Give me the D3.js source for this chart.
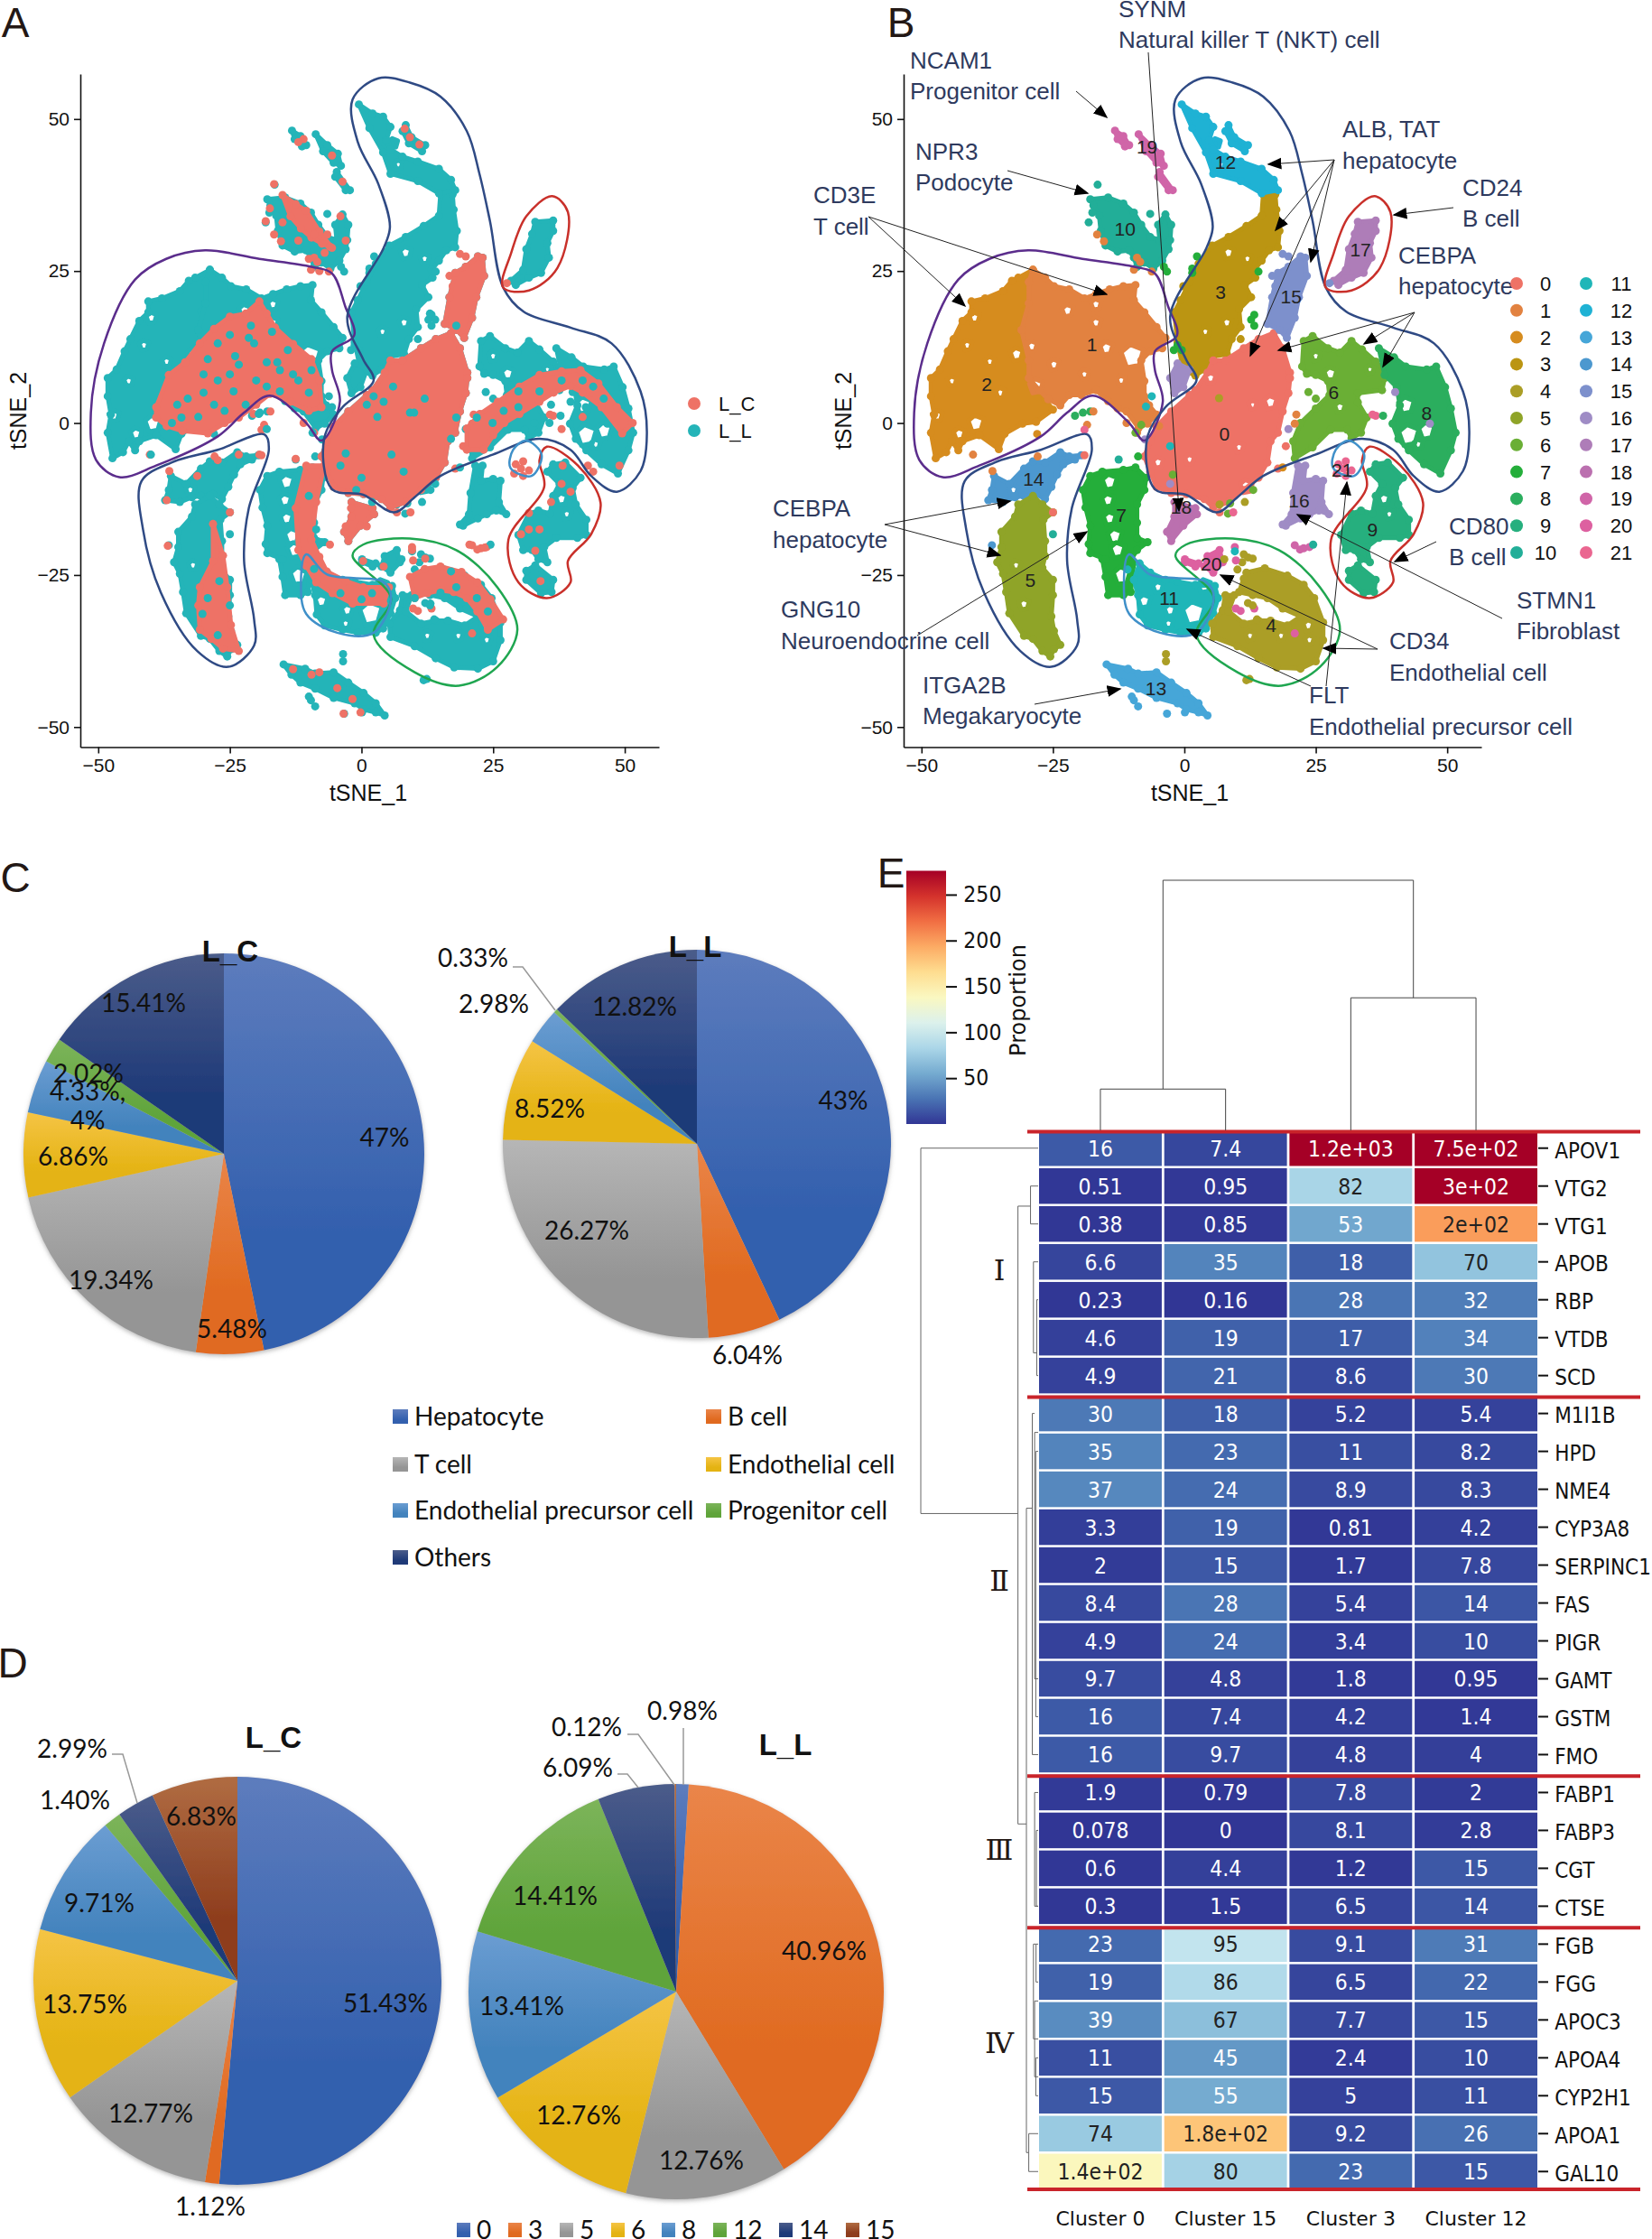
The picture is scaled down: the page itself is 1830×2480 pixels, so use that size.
<!DOCTYPE html>
<html>
<head>
<meta charset="utf-8">
<title>Liver tSNE clusters</title>
<script src="https://cdn.jsdelivr.net/npm/d3@7"></script>
<style>
  html, body { margin: 0; padding: 0; background: #fff; }
  svg { display: block; }
  text { font-family: "Liberation Sans", Arial, sans-serif; fill: #111; }
  .axis text { font-size: 21px; fill: #111; }
  .axis line, .axis path { stroke: #111; stroke-width: 1.6px; }
  .pie-label text, .pie-legend text { font-family: Lato, sans-serif; font-size: 28px; fill: #111; }
  .annot text { font-size: 26px; fill: #2e3a5e; }
  .heat text { font-family: "DejaVu Sans", sans-serif; }
</style>
</head>
<body>
<svg id="figure" width="1830" height="2480"></svg>
<script>
// ---- tSNE data: cell-cloud outlines, in tSNE units ----
const ring0 = [[17,14.8],[18.7,12.3],[20.1,8.3],[20.1,7.4],[19.8,4.9],[18.7,1.9],[17.8,-1.6],[16.4,-3],[15.8,-6.5],[14.1,-9],[11.3,-11],[8.4,-13],[5.5,-13.9],[3.8,-12.5],[0.4,-11.7],[-2.5,-11.5],[-5.3,-10.5],[-6.5,-8],[-7.6,-5.5],[-6.5,-3],[-5.3,-0.6],[-2.5,1.9],[1,4.6],[2.1,5.4],[4.4,8.3],[5.5,10.3],[7.8,10.3],[11.3,12.3],[14.1,13.8]];
const ring1 = [[-28.8,25.2],[-26.5,23.9],[-24.8,22.5],[-21.9,22],[-19,20.5],[-16.8,21.2],[-14.2,22],[-11.6,22.5],[-9.3,22.7],[-9.6,20.2],[-7.6,18.2],[-5.3,15.8],[-3.6,14],[-4.2,12.3],[-6.5,11.8],[-8.2,10.3],[-7.6,6.9],[-7.6,4.4],[-6.7,2.9],[-5.3,1.4],[-7,-0.1],[-8.7,-0.8],[-11,1.9],[-12.7,2.4],[-14.5,3.6],[-16.8,5.4],[-19.6,4.6],[-21.9,4.6],[-23.6,2.9],[-25.9,3.9],[-27.6,5.4],[-29.6,7.4],[-29.6,10.3],[-31,15.3],[-29.6,19.7],[-29.6,23.2]];
const ring2 = [[-28.8,25.2],[-31.6,23.9],[-32.8,23.4],[-34.5,21.7],[-37.9,20.5],[-40.5,20],[-40.5,18.2],[-42.2,16.8],[-43.9,13.8],[-45,11.8],[-46.5,8.8],[-48.2,7.4],[-48.2,4.4],[-47.6,1.4],[-48.2,-1.6],[-47.3,-5.8],[-45.3,-4.8],[-44.2,-3],[-43,-4.5],[-42.2,-3],[-39,-2],[-35.3,-4.3],[-34.2,-1.8],[-30.8,-0.1],[-28.2,0.2],[-25,2.2],[-26.5,3.9],[-29.6,7.4],[-29.6,10.3],[-31,15.3],[-29.6,19.7],[-29.6,23.2]];
const ring3 = [[15,37.6],[17.3,37.6],[17.5,35.1],[18.1,31.6],[17.8,28.9],[16.1,28.4],[14.7,26.7],[13.3,25.2],[13.5,23.9],[11.5,22.7],[12.7,20.7],[10.4,18.7],[10.7,15.8],[9,13.8],[8.1,11.3],[5.5,11],[3.8,8.8],[2.1,7.8],[-0.2,8.8],[-1.3,13.3],[-1.9,18.2],[-0.7,20.2],[1,23.2],[2.7,26.2],[5.3,29.2],[8.4,30.6],[11.8,32.4],[14.7,34.1]];
const ring4 = [[11.8,-24.6],[15.3,-23.9],[19.6,-25.1],[22.7,-26.6],[24.7,-28.8],[26.4,-32.8],[26.4,-35.7],[25,-39.2],[22.1,-40.4],[17.6,-40.2],[14.1,-38.7],[10.1,-36.7],[5.5,-35.2],[5.3,-33],[7.3,-30.8],[7.8,-28.3],[9.5,-28.3],[8.4,-31],[11.3,-33],[14.1,-32.5],[16.4,-32.5],[19.6,-33.3],[22.1,-31.8],[18.7,-30.5],[15.8,-28.8],[13,-28.3],[10.4,-27.8],[11.3,-25.6]];
const ring5 = [[-28.8,-12],[-27,-13.4],[-25,-14.7],[-26.8,-15.9],[-26.5,-19.4],[-26.5,-21.9],[-27,-23.8],[-25,-25.8],[-25,-28.3],[-25.3,-31.8],[-24.8,-34.2],[-23.6,-36.5],[-24.8,-37.2],[-25.5,-38.4],[-27,-37.5],[-28.8,-35.5],[-30.5,-35],[-33.3,-31.3],[-33.9,-27.8],[-34.5,-24.8],[-35.6,-22.9],[-34.8,-20.4],[-34.8,-17.9],[-32.2,-15.4],[-31.6,-13.4]];
const ring6 = [[22.7,13.5],[24.4,14.3],[27.3,12.3],[29.6,11.6],[31.8,13.5],[33.8,12.1],[36.4,10.1],[38.1,8.6],[38.1,7.4],[37.6,5.4],[33,4.9],[33,3.4],[34.7,0.9],[33.6,-1.6],[31.8,-2.5],[31,-1.1],[27.8,-1.1],[24.4,-4],[21,-5.8],[20.7,-3],[22.1,0],[25,2.4],[27.6,4.6],[27.3,6.9],[25,7.9],[23.3,8.1],[22.4,9.3]];
const ring7 = [[-17.9,-8.7],[-15.6,-8],[-11.6,-7.7],[-9.3,-7.3],[-7.3,-9],[-7.6,-11],[-9,-13.4],[-9,-16.4],[-9,-18.9],[-7,-19.6],[-9,-20.9],[-10.5,-22.9],[-9.6,-22.9],[-10.2,-27.8],[-11.6,-28.3],[-14.5,-28.3],[-15,-25.3],[-15.6,-22.4],[-15,-22.4],[-17.9,-21.4],[-18.2,-19.9],[-17.9,-16.9],[-18.8,-13.9],[-19.3,-11]];
const ring8 = [[37,12.3],[39.9,10.8],[42.1,9.3],[46.1,8.8],[47.9,9.3],[49.6,5.9],[50.7,2.4],[51.6,-1.6],[50.7,-4.5],[48.7,-8.3],[45.6,-6.8],[42.7,-4.5],[40.7,-2.6],[39.6,-0.1],[41,2.9],[40.4,5.9],[38.1,7.9]];
const ring9 = [[36.4,-6.8],[38.7,-6.5],[41.6,-9],[40.1,-10.7],[40.7,-13.4],[42.7,-15.9],[42.7,-18.4],[41,-18.9],[37,-18.9],[34.7,-20.4],[35.3,-22.9],[33.6,-22.4],[32.4,-20.9],[30.7,-20.9],[29.8,-18.4],[31.8,-14.9],[33.6,-14.4],[35.8,-14.9],[36.4,-12],[37.6,-10],[35.3,-8]];
const ring9b = [[31.3,-24.3],[33,-23.4],[36.4,-25.8],[36.1,-27.8],[34.1,-28],[31.3,-25.8]];
const ring10 = [[-17.9,36.8],[-14.5,37.1],[-11.6,36.1],[-9.6,34.6],[-8.2,32.6],[-6.5,30.6],[-4.7,30.1],[-5,32.6],[-3.6,34.3],[-2.5,32.6],[-2.7,30.1],[-3,28.6],[-4.2,26.7],[-5.9,25.4],[-7.6,26.4],[-9,25.7],[-9.6,27.2],[-10.5,28.4],[-12.7,28.2],[-15,29.2],[-15.9,31.6],[-16.2,34.1],[-17.3,35.8]];
const ring11 = [[-8.5,-23.1],[-6.5,-24.6],[-3.6,-25.8],[-1.3,-26.1],[2.1,-26.6],[5.8,-26.8],[6.4,-28.8],[5.5,-31.3],[4.1,-33.8],[2.7,-34.5],[-0.7,-34.5],[-3.6,-34],[-7,-33.3],[-8.5,-31.5],[-8.8,-28.3],[-9.6,-25.8]];
const ring12 = [[-0.5,52.4],[2.1,50.9],[4.1,50.4],[5.5,48.7],[4.7,46.5],[5.5,45],[7.8,43.8],[10.7,43],[14.7,41.8],[17,40],[17.8,38.3],[14.7,37.8],[10.7,39.8],[5.5,41],[4.1,44.5],[1.5,48.5]];
const ring12b = [[8.4,49],[9.5,47],[12.1,45.7],[11.5,44.7],[9,46],[7.8,48]];
const ring13 = [[-14.8,-39.7],[-10.7,-40.4],[-8.8,-41.2],[-5.3,-41],[-2.5,-42.7],[0.4,-44.4],[2.7,-46.1],[4.4,-48.1],[2.7,-47.6],[0.4,-47.1],[-1.3,-46.1],[-5.3,-45.2],[-8.8,-43.7],[-11.6,-42.7],[-13.3,-41.4]];
const ring14 = [[-36.2,-8.7],[-33.3,-10],[-30.5,-7.5],[-28.8,-6.3],[-26.5,-6.5],[-23.6,-4.8],[-21.9,-5.5],[-19.6,-5.3],[-20.8,-6],[-23,-6.8],[-24.2,-8.5],[-25.3,-10.5],[-26.5,-12.5],[-28.2,-11.7],[-30.5,-12],[-32.2,-12.2],[-34.5,-13],[-37.3,-12.7],[-36.6,-11]];
const ring15 = [[22.1,27.4],[23,27.2],[23.3,24.2],[21.8,20.7],[21,17.3],[19.5,14],[18.1,15.3],[15.8,16.3],[16.7,20.7],[17.8,24.7],[19.8,25.7]];
const ring16 = [[21.6,-7],[23,-7],[22.7,-9.5],[25,-9.2],[26.4,-9.5],[26.1,-13],[27.5,-15],[25.6,-14.4],[23.8,-15],[22.1,-15.7],[19.3,-16.9],[18.7,-16.7],[20.4,-15],[20.7,-11.5]];
const ring16b = [[-1.3,9.8],[1,8.8],[-0.2,5.9],[-1.9,4.9],[-2.7,7.4]];
const ring17 = [[33,33.1],[36.4,33.3],[36.4,31.6],[35.3,29.6],[35.6,27.2],[34.1,24.7],[31.8,23.9],[29.3,22.7],[28.4,23.4],[30.7,25.2],[31.3,28.6],[32.4,31.1]];
const ring18 = [[-1.9,-13],[2.1,-14],[2.4,-15],[-0.2,-16.9],[-2.5,-19.4],[-3.3,-17.9],[-1.9,-15.4]];
const ring19 = [[-13.2,48.1],[-11.6,47.2],[-10.5,45.7],[-11.3,45.5],[-12.7,46.7]];
const ring19b = [[-8.7,47.5],[-6.5,45.7],[-4.5,44.3],[-3.9,42.3],[-5.3,42.8],[-7.3,44.7]];
const ring19c = [[-4.7,41.3],[-2.2,38.3],[-3,38.3],[-5,40.5]];
const ring20 = [[4.4,-21.9],[6.7,-20.9],[7.3,-22.9],[5.5,-24.6],[3.8,-23.6]];
const ring20b = [[0.1,-22.4],[2.7,-23.1],[2.1,-23.6],[0.1,-22.9]];

const clusterShapes = [
  [2,ring2],[1,ring1],[3,ring3],[0,ring0],[15,ring15],[12,ring12],[12,ring12b],[10,ring10],[19,ring19],[19,ring19b],[19,ring19c],
  [17,ring17],[6,ring6],[8,ring8],[9,ring9],[9,ring9b],[16,ring16],[16,ring16b],[18,ring18],[14,ring14],[5,ring5],[7,ring7],
  [11,ring11],[4,ring4],[13,ring13],[20,ring20],[20,ring20b]
];

// white gaps inside the clouds: [cluster, tSNE_1, tSNE_2, half width]
const cloudGaps = [
  [1,-16.8,19.5,0.5],[1,-22.2,18.5,0.6],[1,-16.8,16.5,0.5],[1,-14.8,12.3,0.7],[1,-9.9,11,1.6],[1,-24.8,9.6,0.5],[1,-29,12.6,0.5],[1,-28.2,6.1,0.8],[1,-19,8,0.4],[1,-12,7,0.4],
  [2,-41.3,12.8,0.4],[2,-31.9,11.3,0.7],[2,-39.9,17.3,0.5],[2,-29.9,18.2,0.4],[2,-37,10.1,0.4],[2,-39.6,-0.1,1],[2,-42.8,-1.8,0.6],[2,-44.2,6.9,0.4],[2,-47,1.2,0.5],[2,-35,5,0.4],
  [3,8.1,16.5,0.5],[3,8.4,28,0.6],[3,4,15,0.4],[3,12,27,0.4],
  [0,16.4,3.4,0.7],[0,10.4,-4,0.4],[0,11.8,-10.4,0.7],[0,5,7.4,0.5],[0,-5,-6.5,0.5],[0,1,-6,0.4],[0,13,3,0.3],
  [4,23.6,-33.3,0.5],[4,23.8,-35.7,0.4],[4,18.4,-35,0.4],[4,12.5,-35,0.4],
  [5,-30.5,-29.8,0.5],[5,-32,-23.4,0.4],[6,29.6,2.6,0.5],[6,27.8,8.1,0.7],[6,35.3,8.8,0.3],[6,25,11,0.4],
  [7,-14.2,-9.7,0.9],[7,-14.5,-12.7,0.7],[7,-14.2,-15.7,0.7],[7,-13.2,-18.6,0.9],[7,-12.7,-20.9,0.9],[7,-11.9,-25.1,1.1],
  [8,42.2,2.9,1],[8,42.7,-2,1.4],[8,46.1,-1.3,1],[8,44.5,-3.5,0.4],[9,38,-12.5,0.6],[9,39,-15,0.4],
  [11,1.8,-31.3,1.6],[11,-2.7,-30.8,0.6],[11,-7.6,-29.3,0.7],[11,3.8,-26.8,0.7],[11,-3,-33,0.4],[11,-5,-27,0.5],[12,6,46,0.4],[12,7,42.5,0.3],[14,-32.5,-11,0.4]
];

// [cluster, tSNE_1, tSNE_2]
const strayCells = [
  [10,-16.5,39.2],[10,-17.5,34.6],[10,-18.2,33],[10,-6.5,34.4],[1,-16.6,31],[1,-15.3,29.9],[1,-9,27.2],[1,-9.6,25.2],[1,-6.2,24.9],[1,-8.4,26.5],[7,-3.3,24.9],[7,-3.9,25.7],
  [1,-40.2,-5.2],[2,-28,-1.8],[1,-36.5,-7.9],[1,-27.9,-5.5],[8,-20.8,1.2],[8,-19.3,1.7],[8,-17.9,1.9],[1,-17.3,1.9],[1,-18.5,-0.3],[21,-19,-1.1],[10,-12.5,-6],[7,-8.8,-5.5],
  [14,-36.6,-20.1],[10,-25,-18.3],[0,-25,-14.7],[0,-19,-5.3],[1,-4.8,-0.5],[1,-9,-1.6],[1,-11,0],
  [4,6.6,4.1],[0,19.3,-3.8],[16,19.8,-1],[1,21.3,1.4],[1,21,-0.1],[0,17.8,-7.5],[2,18.7,-7.3],[6,23.6,5.1],[6,25,4],
  [4,6.7,-13.4],[6,8.7,-13.2],[0,6.7,-14.7],[6,8.3,-14.9],[21,9.3,-14.7],[4,11.5,-13],[6,13.1,-11],
  [16,46.7,-0.1],[16,40.1,5.1],[21,36.4,1.2],[8,37.8,1.2],[21,35.8,1.4],
  [21,29.3,-6.8],[21,30.7,-6.3],[21,31.8,-7.8],[21,30.7,-8.7],[21,29,-8.3],[21,30.3,-7.5],
  [19,21,-20.1],[19,22.7,-20.6],[19,23.8,-20.4],[10,24.5,-20],[19,22,-20.8],
  [4,10.1,-24.1],[4,11,-22.9],[4,12.1,-22.1],[4,13,-22.3],[4,11.3,-21.6],[4,7.6,-22.4],
  [20,9.8,-30.5],[20,10.7,-30.9],[20,13.3,-30.5],[20,21,-34.6],[20,9.6,-20.4],[20,9.8,-22.6],[11,9.6,-21.1],
  [4,12.1,-29.6],[4,13,-30],[4,13.8,-32.3],[4,19.7,-33.5],[4,-3.5,-38],[4,-3.5,-39.2],[4,11.8,-42.3],[4,12.4,-42.1],
  [11,-10.8,-24.1],[13,-9.6,-45.6],[13,-8.8,-46.6],[13,-3.3,-47.8],[13,0.1,-47.6],[13,-10,-45],
  [15,18.7,27.8],[15,19.8,27.4],[15,16.7,24.2],[15,17.3,22.5],[15,27.6,23],
  [7,1.5,25.4],[7,1.5,24.7],[7,2.4,27.4],[3,-0.2,22.5],[7,14.1,24.9],[7,13.3,17.8],[7,13.3,16],[7,12.7,17],[3,10.7,13.8],
  [7,-1.3,12.8],[7,-2,12],[7,-0.5,12],[11,-7.3,2.7],[11,-6.2,4.4],[6,-8.2,-0.3],[6,-9.3,-1.6],[11,-2.7,-3.8],[16,-7.5,-2.7],[16,-2.7,-10],[6,-2.2,-8.5]
];

const clusterLabels = d3.range(22);
const clusterLabelX = [7.6,-17.6,-37.6,6.9,16.5,-29.3,28.4,-12,46.1,35.8,-11.3,-2.9,7.8,-5.4,-28.7,20.3,21.8,33.5,-0.6,-7.1,5.1,30];
const clusterLabelY = [-1.7,12.9,6.4,21.6,-33.2,-25.8,5,-15.1,1.7,-17.5,32,-28.8,43,-43.6,-9.2,20.8,-12.7,28.6,-13.8,45.5,-23.1,-7.7];

// L_C (salmon) parts of the clouds in panel A, plus single cells on top
const lcClusters = [0,1,15,18,19,20,21];
const lcRegions = [
  ring0, ring15, ring18,
  [[-39,2.6],[-36.6,7.9],[-33.5,10],[-30.7,13.1],[-28,15.5],[-25,17.5],[-22,18],[-19.4,20],[-18,18],[-16.4,15.7],[-13,13],[-9.5,10.5],[-8,7],[-7.6,2.6],[-10,2],[-13.5,3.5],[-17.4,4.8],[-20,3],[-23.3,0.9],[-26,0],[-29.2,-1.7],[-34,-1.3],[-37,-0.5],[-39,0.9]],
  [[20,-4.4],[20,-0.9],[22.5,1.5],[25.9,3.5],[30,6],[33.8,7.9],[38,8.5],[41.6,8.7],[45,6.5],[48.5,2.6],[51.5,0],[49.5,-1.7],[45.6,2.6],[42,5],[39.7,6.1],[36.5,5],[33.8,3.5],[30,1.5],[27.1,0],[25,-2],[23.2,-4.4]],
  [[-10.5,-7],[-7.1,-7],[-8.6,-13],[-9.5,-19.2],[-8,-22],[-6.6,-24.4],[-3,-26],[0.3,-27],[5.2,-27],[4.2,-29.7],[-1.7,-29.7],[-5.5,-28],[-8.6,-26.2],[-10.5,-23.5],[-12,-20.9],[-12.5,-14]],
  [[9.2,-25.3],[12,-24],[15,-23.6],[19,-24.5],[22,-26.2],[24.5,-29],[26.9,-32.3],[24,-34],[22,-31],[20,-28.8],[17.5,-27.8],[15,-27.5],[12.5,-28],[10.1,-28.8]],
  [[-28.2,-16.6],[-26.3,-21.8],[-25.5,-27],[-24.8,-33.2],[-23.3,-37.5],[-26.3,-37.1],[-28.5,-35.5],[-30.7,-34],[-31,-30],[-30.7,-27],[-28.2,-22.7]],
  [[-15,37.5],[-12.5,36],[-10.5,34.9],[-8,31.5],[-5.6,28.8],[-7.5,29.5],[-9.5,30.5],[-11.5,32],[-13.5,34]]
];
const lcCells = [
  [9.2,47],[11,45.8],[8.2,48.4],[-11,46.7],[-12,46.2],[-5.6,44],[-3.6,39.7],[-16.6,39.3],[-17.4,35.3],[-18.2,33.2],
  [31.8,-14.8],[30.3,-18.3],[33.8,-17.5],[39.7,-11.3],[38.2,-7],[31.8,-17.5],[34,-26],[38,-10],[36,-13],[33,-21],
  [-9.5,-41.4],[-4.6,-43.6],[-1.7,-45.4],[-3.4,-47.8],[-0.2,-47.6],[-13,-40.5],[-8,-41],[-36.8,-20.2],[-37,-12.7],
  [-12.5,-5.9],[-23.3,-5.2],[-19.4,-5.2],[-27.3,-6.1],[-31.2,-8.7],[0.3,-22.7],[4.2,-23.6],[9.6,-20.9],[12.1,-22.3],
  [20.5,-20],[23.4,-20.5],[1,-17],[-2,-14],[-3,-17],[-6,-20],[-20.5,1.5],[-10,27],[-8,25],[-6.5,31],[-4,34],
  [-6,29],[-7,28],[-9,31],[-12,30],[-15,33],[-3,30],[43,-7],[44,-8],[38,-1],[42,1],[49,-7]
];
const llCells = [
  [-15.5,8.7],[-21.4,14],[-29.2,10.5],[-24.3,5.2],[-15.5,5.2],[-9.5,8.7],[-5.6,2.6],[-23.3,9.6],[-27.3,7],[-20.4,13.1],
  [-34.2,0.9],[-36,0],[-27.3,13.1],[-18,10],[-12,7],[-26,2],[-30,5],[-22,3],[-33,4],[-24,11],[-14,12],[-17,15],[-31,1],
  [-20,7],[-28,3],[-25,8],[-18,6],[-30,8],[-35,3],[-13,8],[-10,5],[-21,16],[-25,14.5],[-16,10],
  [5.7,-5.2],[4.2,3.5],[9.2,1.7],[2.3,4.4],[10,1.7],[18,0.9],[17,-2.6],[1,3],[6,6],[14,-10],[0,-9],[12,4],[3,1],[-3,-5],[8,-8],[-1,-11],[2,-13],[-4,-7],
  [29.8,2.6],[33.8,5.2],[39.7,3.5],[42.6,2.6],[35.7,0],[32.8,0],[29.8,5.2],[24.9,0],[21.9,0.9],[38,7],[44,6],[27,2],[36,3],[42,7],[46,4],
  [-29.2,-28.8],[-27.3,-34.9],[-30.2,-31.4],[-27,-26],[-25,-30],[10.1,-28.8],[15,-27.9],[20,-30.5],[21.9,-28.8],[17,-24.4],[13.1,-29.7],[18,-27],[24,-31],
  [-8.6,-17.5],[-7.6,-19.6],[-10,-12],[-9,-24],[-40,-5.2],[-18,-1],[-19.5,1.5],[18,16],[13,18],[14,17],[2,-28],[-4,-28],[0,-29]
];

// hand-drawn outlines around the annotated groups
const loopTcell = [[-29.7,28.4],[-19.4,27],[-9.5,25.7],[-5.6,24.6],[-3.1,19.2],[-1.4,14.4],[-5.6,11.8],[-5.6,8.7],[-4.1,3.5],[-7.6,-2.9],[-10.5,0],[-17.4,4.5],[-22.3,1.7],[-27.3,-2.2],[-39,-7],[-46,-8.9],[-50.4,-6.1],[-51.4,1.7],[-48.9,13.1],[-43,23.6],[-37.1,27]];
const loopHepatocyte = [[3.2,56.7],[9.2,56],[15,53.7],[20,48],[22.4,41],[24.4,33.2],[26.9,22.3],[30.8,18.3],[39.7,15.7],[47.5,13.1],[53,5.2],[54.2,-1.7],[53,-7.9],[48.5,-11.3],[43.6,-8.7],[39.7,-4.4],[33.8,-2.6],[24.9,-5.2],[15,-8.7],[10.1,-12.2],[6.2,-14.7],[0.3,-11.8],[-5.6,-10.9],[-7.1,-2.6],[-3.6,2.6],[2.3,7],[0.3,10.5],[-2.7,17.5],[4.2,28.8],[5.4,32.3],[3.2,39.3],[-0.7,46.2],[-1.7,53.2]];
const loopLower = [[-18.4,-1.9],[-17.6,-4.4],[-21.4,-14],[-22.3,-22.7],[-20.4,-32.3],[-20.4,-36.6],[-25.3,-40.1],[-31.2,-37.5],[-38.1,-27.9],[-41.5,-17.5],[-41.8,-9.6],[-36.1,-6.5],[-27.3,-4.4]];
const loopBcellTop = [[36.2,37.3],[39.2,34.7],[37.2,25.5],[31.8,21.8],[26.9,22.3],[28.4,27.9],[31.3,34]];
const loopBcellLow = [[35.2,-3.9],[41.1,-7],[45.4,-13.1],[43.6,-18.3],[39.2,-22.7],[39.7,-26.2],[35.2,-28.8],[29.8,-26.2],[27.9,-19.2],[34.7,-10.5],[33.8,-6.1]];
const loopEndothelial = [[9.2,-19],[18,-20.9],[25.8,-27],[29.6,-34],[25.8,-40.1],[18.5,-43.2],[10.1,-41],[2.3,-34.9],[5.6,-28.8],[-1.7,-21.8],[0.3,-20]];
const loopPrecursor = [[-10.5,-21.6],[-6.6,-24.9],[4.2,-26.2],[5.6,-28.8],[2.3,-34.5],[-4.6,-34.5],[-10.5,-31.4],[-11.5,-26.2]];
const loopFibro = [[31.3,-2.9],[34.2,-5.2],[32.3,-8.7],[28.3,-7.4],[28.8,-4.4]];
const loops = [
  [loopTcell,"#5b2d8c"],[loopHepatocyte,"#2f4a84"],[loopLower,"#2f4a84"],[loopBcellTop,"#c9302a"],[loopBcellLow,"#c9302a"],
  [loopEndothelial,"#1fa650"],[loopPrecursor,"#3f90c9"],[loopFibro,"#3f90c9"]
];

const clusterColors = ["#ee7266","#e28240","#d68c1e","#bb9512","#ab9e26","#8fa428","#6aaf35","#24ae3a","#2bae5e","#26af7e","#22ae98","#1fb6b8","#1fb2d4","#46a6d8","#4c98cf","#7d90cc","#9f8cc5","#ae7db8","#bb70af","#d065a8","#dd60a0","#ea6690"];
const sampleNames = ["L_C","L_L"];
const sampleColors = ["#ee7266","#24b4b8"];

// panel B callouts
const calloutTexts = [
  ["SYNM",1239,10],["Natural killer T (NKT) cell",1239,44],["NCAM1",1008,67],["Progenitor cell",1008,101],["NPR3",1014,168],["Podocyte",1014,202],
  ["CD3E",901,216],["T cell",901,251],["ALB, TAT",1487,143],["hepatocyte",1487,178],["CD24",1620,208],["B cell",1620,242],["CEBPA",1549,283],["hepatocyte",1549,317],
  ["CD80",1605,583],["B cell",1605,617],["STMN1",1680,665],["Fibroblast",1680,699],["CD34",1539,710],["Endothelial cell",1539,745],["FLT",1450,770],["Endothelial precursor cell",1450,805],
  ["ITGA2B",1022,759],["Megakaryocyte",1022,793],["CEBPA",856,563],["hepatocyte",856,598],["GNG10",865,675],["Neuroendocrine cell",865,710]
];
const calloutArrows = [
  [1192,101,1226,130],[1116,189,1205,214],[962,240,1069,339],[962,240,1226,326],[1272,58,1306,566],
  [1478,177,1405,182],[1478,177,1413,255],[1478,177,1385,394],[1478,177,1452,290],[1610,230,1544,238],
  [1567,346,1416,388],[1567,346,1511,381],[1567,346,1532,406],[1591,600,1545,622],[1664,685,1437,570],
  [1526,719,1352,637],[1526,719,1466,718],[1469,760,1492,534],[1452,760,1315,697],[1146,780,1241,763],
  [1016,704,1204,589],[980,581,1119,555],[980,581,1108,615]
];

// ---- pie data ----
const cellTypes = ["Hepatocyte","B cell","T cell","Endothelial cell","Endothelial precursor cell","Progenitor cell","Others"];
const pieCLC = [47,5.48,19.34,6.86,4.34,2.02,15.41];
const pieCLL = [43,6.04,26.27,8.52,2.98,0.33,12.82];
const pieClusters = ["0","3","5","6","8","12","14","15"];
const pieDLC = [51.43,1.12,12.77,13.75,9.71,1.40,2.99,6.83];
const pieDLL = [0.98,40.96,12.76,12.76,13.41,14.41,6.09,0.12];
const sliceGradients = [["#5d7cbd","#3360ae"],["#ea8549","#e06a20"],["#b6b6b6","#959595"],["#f5c445","#e4b312"],["#6b9dd2","#4383bd"],["#7cb45a","#5fa43a"],["#4b5c8a","#1f3a78"],["#b06c42","#8e3d1d"]];

const pieLabelsC = [["47%",426,1260],["5.48%",257,1472],["19.34%",123,1418],["6.86%",81,1281],["4.33%,",97,1209],["4%",97,1241],["2.02%",98,1189],["15.41%",159,1111],
  ["43%",934,1219],["6.04%",828,1501],["26.27%",650,1363],["8.52%",609,1228],["2.98%",547,1112],["0.33%",524,1061],["12.82%",703,1115]];
const pieLabelsD = [["2.99%",80,1937],["1.40%",83,1994],["6.83%",223,2012],["9.71%",110,2108],["13.75%",94,2220],["51.43%",427,2219],["12.77%",167,2341],["1.12%",233,2444],
  ["0.98%",756,1895],["0.12%",650,1913],["6.09%",640,1958],["14.41%",615,2100],["40.96%",913,2161],["13.41%",578,2222],["12.76%",641,2343],["12.76%",777,2393]];
const leaderLines = [
  [[568,1071],[579,1071],[615,1119]],[[124,1943],[136,1943],[152,1997]],
  [[757,1914],[757,1977]],[[695,1921],[707,1921],[747,1977]],[[684,1965],[695,1965],[707,1980]]
];

// ---- heatmap data ----
const heatColumns = ["Cluster 0","Cluster 15","Cluster 3","Cluster 12"];
const heatGenes = ["APOV1","VTG2","VTG1","APOB","RBP","VTDB","SCD","M1I1B","HPD","NME4","CYP3A8","SERPINC1","FAS","PIGR","GAMT","GSTM","FMO","FABP1","FABP3","CGT","CTSE","FGB","FGG","APOC3","APOA4","CYP2H1","APOA1","GAL10"];
const heatCells = [
  ["16","7.4","1.2e+03","7.5e+02"],["0.51","0.95","82","3e+02"],["0.38","0.85","53","2e+02"],["6.6","35","18","70"],
  ["0.23","0.16","28","32"],["4.6","19","17","34"],["4.9","21","8.6","30"],["30","18","5.2","5.4"],["35","23","11","8.2"],
  ["37","24","8.9","8.3"],["3.3","19","0.81","4.2"],["2","15","1.7","7.8"],["8.4","28","5.4","14"],["4.9","24","3.4","10"],
  ["9.7","4.8","1.8","0.95"],["16","7.4","4.2","1.4"],["16","9.7","4.8","4"],["1.9","0.79","7.8","2"],["0.078","0","8.1","2.8"],
  ["0.6","4.4","1.2","15"],["0.3","1.5","6.5","14"],["23","95","9.1","31"],["19","86","6.5","22"],["39","67","7.7","15"],
  ["11","45","2.4","10"],["15","55","5","11"],["74","1.8e+02","9.2","26"],["1.4e+02","80","23","15"]
];
const colorbarTicks = [50,100,150,200,250];
const colorMax = 276;
const groupBreaks = [0,7,17,21,28]; // red lines sit on these row edges
const groupNames = ["Ⅰ","Ⅱ","Ⅲ","Ⅳ"];
const groupNameRows = [3.2,11.4,18.5,23.6];
// column tree: [left, right, height]; left/right are column positions
const colMerges = [[0,1,0.165],[2,3,0.53],[0.5,2.5,1]];
// row tree: [rowLo, rowHi, depth, depthLo, depthHi]
const rowMerges = [
  [0,9.64,1,0,0.172],[1.53,17.83,0.172,0.065,0.1],[1,2,0.065,0,0],[9.5,26.5,0.1,0.05,0.08],[26,27,0.08,0,0],
  [3,5.4,0.04,0,0.012],[4,6,0.012,0,0],[7,16,0.05,0.03,0],[7.5,14,0.03,0,0],[8,15,0.02,0,0],[17,20,0.03,0,0],[18,20,0.015,0,0],
  [21,23.5,0.04,0.018,0],[21,22,0.018,0,0],[24,25,0.02,0,0],[22.5,24.5,0.03,0,0]
];

// ---- drawing ----
const svg = d3.select("#figure");
const defs = svg.append("defs");

defs.append("marker").attr("id", "arrow").attr("viewBox", "0 0 10 10")
  .attr("refX", 9).attr("refY", 5).attr("markerWidth", 16).attr("markerHeight", 16)
  .attr("markerUnits", "userSpaceOnUse").attr("orient", "auto")
  .append("path").attr("d", "M0,1L10,5L0,9Z").attr("fill", "#000");

const shadow = defs.append("filter").attr("id", "pieShadow").attr("x", "-10%").attr("y", "-10%").attr("width", "120%").attr("height", "120%");
shadow.append("feDropShadow").attr("dx", 0).attr("dy", 2).attr("stdDeviation", 2.5).attr("flood-color", "#888").attr("flood-opacity", 0.6);

sliceGradients.forEach((stops, i) => {
  const g = defs.append("linearGradient").attr("id", `slice${i}`).attr("x1", 0).attr("x2", 0).attr("y1", 0).attr("y2", 1);
  g.append("stop").attr("offset", "0%").attr("stop-color", stops[0]);
  g.append("stop").attr("offset", "70%").attr("stop-color", stops[1]);
});

function panelLetter(label, x, y) {
  svg.append("text").attr("x", x).attr("y", y).attr("dy", "0.36em").attr("text-anchor", "middle")
    .style("font-size", "46px").style("fill", "#231815").text(label);
}
panelLetter("A", 17, 24);
panelLetter("B", 998, 24);
panelLetter("C", 17, 971);
panelLetter("D", 14, 1841);
panelLetter("E", 987, 966);

function tsneAxes(xRange, nameX, yLabelX) {
  const x = d3.scaleLinear().domain([-53.4, 56.5]).range(xRange);
  const y = d3.scaleLinear().domain([-53.3, 57.4]).range([827.5, 82]);
  const g = svg.append("g");
  g.append("g").attr("class", "axis").attr("transform", "translate(0,827.5)")
    .call(d3.axisBottom(x).tickValues([-50,-25,0,25,50]).tickSize(7).tickSizeOuter(0).tickPadding(6));
  g.append("g").attr("class", "axis").attr("transform", `translate(${xRange[0]},0)`)
    .call(d3.axisLeft(y).tickValues([-50,-25,0,25,50]).tickSize(7).tickSizeOuter(0).tickPadding(5));
  g.append("text").attr("x", nameX).attr("y", 878).attr("dy", "0.36em").attr("text-anchor", "middle").style("font-size", "25px").text("tSNE_1");
  g.append("text").attr("transform", `translate(${yLabelX},455) rotate(-90)`).attr("dy", "0.36em").attr("text-anchor", "middle").style("font-size", "25px").text("tSNE_2");
  return { g, x, y };
}

function ringPath(x, y, ring) {
  return "M" + ring.map(p => `${x(p[0])},${y(p[1])}`).join("L") + "Z";
}

// a gap is cut out of its cloud as a small irregular hole; the cloud's stroke eats 2.5px of it again
function gapRing(gap) {
  const [, cx, cy] = gap;
  const s = gap[3] + 0.5;
  return [[cx - s, cy + s * 0.3], [cx - s * 0.2, cy + s * 0.9], [cx + s, cy + s * 0.5], [cx + s * 0.6, cy - s * 0.7], [cx - s * 0.5, cy - s * 0.9]];
}

function drawCloud(g, x, y, ring, gaps, color) {
  const d = ringPath(x, y, ring) + gaps.map(gap => ringPath(x, y, gapRing(gap))).join("");
  g.append("path").attr("d", d).attr("fill", color).attr("fill-rule", "evenodd")
    .attr("stroke", color).attr("stroke-width", 5).attr("stroke-linejoin", "round");
  drawCells(g, x, y, ring, color);
}

function drawCells(g, x, y, cells, color) {
  g.selectAll(null).data(cells).enter().append("circle")
    .attr("cx", d => x(d[0])).attr("cy", d => y(d[1])).attr("r", 4.5).attr("fill", color);
}

function shapeGaps(shape) {
  return shape[1] === clusterShapes.find(s => s[0] === shape[0])[1] ? cloudGaps.filter(c => c[0] === shape[0]) : [];
}

function drawLoops(g, x, y) {
  const loopLine = d3.line().x(d => x(d[0])).y(d => y(d[1])).curve(d3.curveCatmullRomClosed.alpha(0.5));
  g.selectAll(null).data(loops).enter().append("path")
    .attr("d", d => loopLine(d[0])).attr("fill", "none").attr("stroke", d => d[1]).attr("stroke-width", 2.5);
}

// Panel A
const panelA = tsneAxes([89, 730], 408, 20);
clusterShapes.forEach(s => drawCloud(panelA.g, panelA.x, panelA.y, s[1], shapeGaps(s), sampleColors[1]));
strayCells.forEach(c => drawCells(panelA.g, panelA.x, panelA.y, [[c[1], c[2]]], sampleColors[lcClusters.includes(c[0]) ? 0 : 1]));
lcRegions.forEach(r => drawCloud(panelA.g, panelA.x, panelA.y, r, [], sampleColors[0]));
drawCells(panelA.g, panelA.x, panelA.y, lcCells, sampleColors[0]);
drawCells(panelA.g, panelA.x, panelA.y, llCells, sampleColors[1]);
drawLoops(panelA.g, panelA.x, panelA.y);

const legendA = svg.append("g").selectAll("g").data(sampleNames).enter().append("g")
  .attr("transform", (d, i) => `translate(769,${447 + i * 30})`);
legendA.append("circle").attr("r", 7).attr("fill", (d, i) => sampleColors[i]);
legendA.append("text").attr("x", 27).attr("dy", "0.36em").style("font-size", "22px").text(d => d);

// Panel B
const panelB = tsneAxes([1001, 1641], 1318, 934);
clusterShapes.forEach(s => drawCloud(panelB.g, panelB.x, panelB.y, s[1], shapeGaps(s), clusterColors[s[0]]));
strayCells.forEach(c => drawCells(panelB.g, panelB.x, panelB.y, [[c[1], c[2]]], clusterColors[c[0]]));
drawLoops(panelB.g, panelB.x, panelB.y);
panelB.g.selectAll(null).data(clusterLabels).enter().append("text")
  .attr("x", d => panelB.x(clusterLabelX[d])).attr("y", d => panelB.y(clusterLabelY[d]))
  .attr("dy", "0.36em").attr("text-anchor", "middle").style("font-size", "21px").style("fill", "#222").text(d => d);

const annot = svg.append("g").attr("class", "annot");
annot.selectAll("line").data(calloutArrows).enter().append("line")
  .attr("x1", d => d[0]).attr("y1", d => d[1]).attr("x2", d => d[2]).attr("y2", d => d[3])
  .attr("stroke", "#222").attr("stroke-width", 1).attr("marker-end", "url(#arrow)");
annot.selectAll("text").data(calloutTexts).enter().append("text")
  .attr("x", d => d[1]).attr("y", d => d[2]).attr("dy", "0.36em").text(d => d[0]);

const legendB = svg.append("g").selectAll("g").data(clusterLabels).enter().append("g")
  .attr("transform", d => `translate(${d < 11 ? 1680 : 1757},${314 + (d % 11) * 29.8})`);
legendB.append("circle").attr("r", 7).attr("fill", d => clusterColors[d]);
legendB.append("text").attr("x", d => d < 11 ? 32 : 39).attr("dy", "0.36em").attr("text-anchor", "middle").style("font-size", "22px").text(d => d);

// Panels C, D
function drawPie(values, cx, cy, r) {
  const pie = d3.pie().sort(null).value(d => d);
  const arc = d3.arc().innerRadius(0).outerRadius(r);
  svg.append("g").attr("transform", `translate(${cx},${cy})`).attr("filter", "url(#pieShadow)")
    .selectAll("path").data(pie(values)).enter().append("path")
    .attr("d", arc).attr("fill", (d, i) => `url(#slice${i})`);
}
drawPie(pieCLC, 248, 1278, 222);
drawPie(pieCLL, 772, 1267, 215);
drawPie(pieDLC, 263, 2194, 226);
drawPie(pieDLL, 749, 2206, 230);

const leaderLine = d3.line();
svg.append("g").selectAll("path").data(leaderLines).enter().append("path")
  .attr("d", leaderLine).attr("fill", "none").attr("stroke", "#999").attr("stroke-width", 1.5);

svg.append("g").attr("class", "pie-label").selectAll("text").data(pieLabelsC.concat(pieLabelsD)).enter().append("text")
  .attr("x", d => d[1]).attr("y", d => d[2]).attr("dy", "0.36em").attr("text-anchor", "middle").text(d => d[0]);

function pieTitle(label, x, y) {
  svg.append("text").attr("x", x).attr("y", y).attr("dy", "0.36em").attr("text-anchor", "middle")
    .style("font-size", "33px").style("font-weight", "bold").text(label);
}
pieTitle("L_C", 255, 1053);
pieTitle("L_L", 770, 1048);
pieTitle("L_C", 303, 1924);
pieTitle("L_L", 870, 1932);

const legendCCol = [435, 782];
const legendCRow = [1569, 1622, 1673, 1725];
const legendC = svg.append("g").attr("class", "pie-legend").selectAll("g").data(cellTypes).enter().append("g")
  .attr("transform", (d, i) => `translate(${i === 6 ? legendCCol[0] : legendCCol[i % 2]},${legendCRow[Math.floor(i / 2)]})`);
legendC.append("rect").attr("y", -8).attr("width", 17).attr("height", 16).attr("fill", (d, i) => `url(#slice${i})`);
legendC.append("text").attr("x", 24).attr("dy", "0.36em").text(d => d);

const legendDX = [506, 563, 620, 677, 733, 790, 863, 937];
const legendD = svg.append("g").attr("class", "pie-legend").selectAll("g").data(pieClusters).enter().append("g")
  .attr("transform", (d, i) => `translate(${legendDX[i]},2470)`);
legendD.append("rect").attr("y", -8).attr("width", 15).attr("height", 16).attr("fill", (d, i) => `url(#slice${i})`);
legendD.append("text").attr("x", 22).attr("dy", "0.36em").text(d => d);

// Panel E
const heat = svg.append("g").attr("class", "heat");
const colScale = d3.scaleBand().domain(heatColumns).range([1151, 1703]).paddingInner(0.02);
const rowScale = d3.scaleBand().domain(heatGenes).range([1252, 2425]).paddingInner(0.06);
const rowStep = rowScale.step();
const rowMid = p => rowScale(heatGenes[0]) + rowScale.bandwidth() / 2 + p * rowStep;
const colMid = p => colScale(heatColumns[0]) + colScale.bandwidth() / 2 + p * colScale.step();
const heatColor = d3.scaleSequential(t => d3.interpolateRdYlBu(1 - t)).domain([0, colorMax]).clamp(true);

const heatRows = heat.selectAll("g.row").data(heatCells).enter().append("g").attr("class", "row")
  .attr("transform", (d, i) => `translate(0,${rowScale(heatGenes[i])})`);
const cell = heatRows.selectAll("g").data(d => d).enter().append("g")
  .attr("transform", (d, j) => `translate(${colScale(heatColumns[j])},0)`);
cell.append("rect").attr("width", colScale.bandwidth()).attr("height", rowScale.bandwidth()).attr("fill", d => heatColor(+d));
cell.append("text")
  .attr("transform", `translate(${colScale.bandwidth() / 2},${rowScale.bandwidth() / 2}) scale(0.88,1)`)
  .attr("dy", "0.36em").attr("text-anchor", "middle").style("font-size", "25px")
  .style("fill", d => (+d > 60 && +d <= 210) ? "#222" : "#fff").text(d => d);

const rowAxis = heat.append("g").attr("class", "axis").attr("transform", "translate(1704,0)")
  .call(d3.axisRight(rowScale).tickSize(11).tickPadding(7));
rowAxis.select(".domain").remove();
rowAxis.selectAll("text").style("font-size", "24px").attr("dy", "0.45em")
  .attr("transform", "translate(2,0) scale(0.9,1)");
rowAxis.selectAll("line").style("stroke-width", "2px");

heat.selectAll("text.col").data(heatColumns).enter().append("text").attr("class", "col")
  .attr("x", d => colScale(d) + colScale.bandwidth() / 2).attr("y", 2457).attr("dy", "0.36em")
  .attr("text-anchor", "middle").style("font-size", "22px").text(d => d);

heat.selectAll("line.group").data(groupBreaks).enter().append("line").attr("class", "group")
  .attr("x1", 1138).attr("x2", 1817)
  .attr("y1", d => rowScale.range()[0] + 1.5 + d * rowStep - (d === 28 ? 4 : 0))
  .attr("y2", d => rowScale.range()[0] + 1.5 + d * rowStep - (d === 28 ? 4 : 0))
  .attr("stroke", "#c9242b").attr("stroke-width", 4);

svg.append("g").selectAll("text").data(groupNames).enter().append("text")
  .attr("x", 1107).attr("y", (d, i) => rowMid(groupNameRows[i])).attr("dy", "0.36em").attr("text-anchor", "middle")
  .style("font-family", "'DejaVu Serif', serif").style("font-size", "32px").style("fill", "#231815").text(d => d);

// column dendrogram
const dendroY = d3.scaleLinear().domain([0, 1]).range([1252, 975]);
const colHeightAt = p => {
  const m = colMerges.find(c => (c[0] + c[1]) / 2 === p);
  return m ? m[2] : 0;
};
heat.selectAll("path.coltree").data(colMerges).enter().append("path").attr("class", "coltree")
  .attr("d", d => `M${colMid(d[0])},${dendroY(colHeightAt(d[0]))}V${dendroY(d[2])}H${colMid(d[1])}V${dendroY(colHeightAt(d[1]))}`)
  .attr("fill", "none").attr("stroke", "#444").attr("stroke-width", 1);

// row dendrogram
const dendroX = d3.scaleLinear().domain([0, 1]).range([1150, 1020]);
heat.selectAll("path.rowtree").data(rowMerges).enter().append("path").attr("class", "rowtree")
  .attr("d", d => `M${dendroX(d[3])},${rowMid(d[0])}H${dendroX(d[2])}V${rowMid(d[1])}H${dendroX(d[4])}`)
  .attr("fill", "none").attr("stroke", "#666").attr("stroke-width", 1);

// colour bar
const barScale = d3.scaleLinear().domain([0, colorMax]).range([1245, 964.5]);
const barGrad = defs.append("linearGradient").attr("id", "colorbar").attr("x1", 0).attr("x2", 0).attr("y1", 1).attr("y2", 0);
barGrad.selectAll("stop").data(d3.range(0, 1.01, 0.1)).enter().append("stop")
  .attr("offset", d => `${d * 100}%`).attr("stop-color", d => heatColor(d * colorMax));
heat.append("rect").attr("x", 1004).attr("y", 964.5).attr("width", 44).attr("height", 280.5).attr("fill", "url(#colorbar)");
const barAxis = heat.append("g").attr("class", "axis").attr("transform", "translate(1048,0)")
  .call(d3.axisRight(barScale).tickValues(colorbarTicks).tickSize(12).tickPadding(7));
barAxis.select(".domain").remove();
barAxis.selectAll("line").style("stroke-width", "2px");
barAxis.selectAll("text").style("font-size", "24px").attr("transform", "scale(0.92,1)").attr("x", 21);
heat.append("text").attr("transform", "translate(1127,1108) rotate(-90)").attr("dy", "0.36em").attr("text-anchor", "middle")
  .style("font-size", "24px").text("Proportion");
</script>
</body>
</html>
